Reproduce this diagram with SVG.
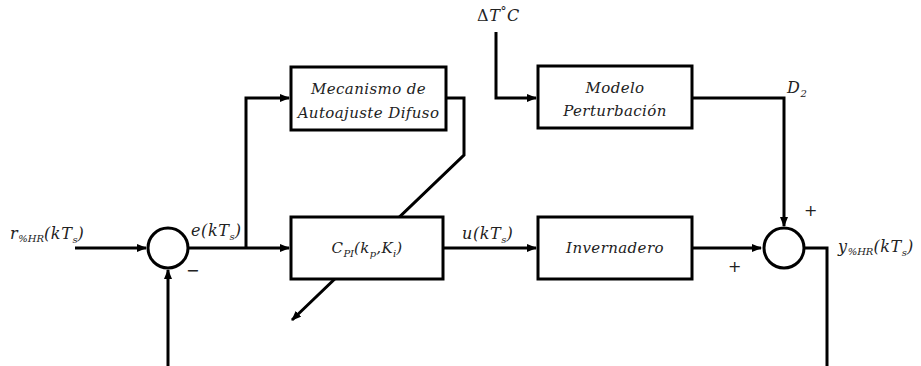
<svg xmlns="http://www.w3.org/2000/svg" width="921" height="366" viewBox="0 0 921 366">
  <style>
    .blk { fill: #fff; stroke: #000; stroke-width: 3; }
    .ln { fill: none; stroke: #000; stroke-width: 3; }
    .t { font-family: "DejaVu Serif", "Liberation Serif", serif; font-style: italic; font-size: 15px; fill: #222; letter-spacing: 0.4px; }
    .lb { font-size: 16px; letter-spacing: 0.6px; }
    .c { text-anchor: middle; }
    .s { font-size: 10px; letter-spacing: 0; }
    .up { font-style: normal; }
    .sgn { font-family: "DejaVu Sans", sans-serif; font-size: 16px; fill: #222; }
  </style>
  <defs>
    <marker id="arr" markerWidth="10" markerHeight="8" refX="9" refY="4" orient="auto" markerUnits="userSpaceOnUse">
      <path d="M0,0 L10,4 L0,8 Z" fill="#000"/>
    </marker>
  </defs>
  <rect width="921" height="366" fill="#fff"/>

  <g id="connectors">
    <path class="ln" d="M75,248 H146" marker-end="url(#arr)"/>
    <path class="ln" d="M188,248 H289" marker-end="url(#arr)"/>
    <path class="ln" d="M246,248 V98 H289" marker-end="url(#arr)"/>
    <path class="ln" d="M446,98 H464 V155 L292,320" marker-end="url(#arr)"/>
    <path class="ln" d="M443,248 H536" marker-end="url(#arr)"/>
    <path class="ln" d="M692,248 H761" marker-end="url(#arr)"/>
    <path class="ln" d="M496,32 V98 H536" marker-end="url(#arr)"/>
    <path class="ln" d="M692,98 H784 V226" marker-end="url(#arr)"/>
    <path class="ln" d="M804,248 H827 V366"/>
    <path class="ln" d="M168,366 V270" marker-end="url(#arr)"/>
  </g>

  <g id="sum1">
    <circle class="blk" cx="168" cy="248" r="20"/>
    <text class="sgn" x="186" y="276">−</text>
  </g>

  <g id="sum2">
    <circle class="blk" cx="784" cy="248" r="20"/>
    <text class="sgn" x="728" y="272">+</text>
    <text class="sgn" x="804" y="216">+</text>
  </g>

  <g id="fuzzy">
    <rect class="blk" x="291" y="67" width="155" height="63"/>
    <text class="t c" x="368.5" y="94">Mecanismo de</text>
    <text class="t c" x="368.5" y="118">Autoajuste Difuso</text>
  </g>

  <g id="controller">
    <rect class="blk" x="291" y="217" width="152" height="62"/>
    <text class="t c" x="367" y="253">C<tspan class="s" dy="4">PI</tspan><tspan dy="-4">(k</tspan><tspan class="s" dy="4">p</tspan><tspan dy="-4">,K</tspan><tspan class="s" dy="4">i</tspan><tspan dy="-4">)</tspan></text>
  </g>

  <g id="plant">
    <rect class="blk" x="538" y="217" width="154" height="62"/>
    <text class="t c" x="615" y="253">Invernadero</text>
  </g>

  <g id="disturbance">
    <rect class="blk" x="538" y="66" width="154" height="62"/>
    <text class="t c" x="615" y="93">Modelo</text>
    <text class="t c" x="615" y="116">Perturbación</text>
  </g>

  <g id="labels">
    <text class="t lb" x="10" y="239">r<tspan class="s" dy="3">%HR</tspan><tspan dy="-3">(kT</tspan><tspan class="s" dy="4">s</tspan><tspan dy="-4">)</tspan></text>
    <text class="t lb" x="191" y="236">e(kT<tspan class="s" dy="4">s</tspan><tspan dy="-4">)</tspan></text>
    <text class="t lb" x="462" y="239">u(kT<tspan class="s" dy="4">s</tspan><tspan dy="-4">)</tspan></text>
    <text class="t lb" x="838" y="252">y<tspan class="s" dy="3">%HR</tspan><tspan dy="-3">(kT</tspan><tspan class="s" dy="4">s</tspan><tspan dy="-4">)</tspan></text>
    <text class="t lb" x="477" y="21"><tspan class="up">Δ</tspan>T<tspan class="up" font-size="12" dy="-5">°</tspan><tspan dy="5">C</tspan></text>
    <text class="t lb" x="787" y="93">D<tspan class="s" dy="4">2</tspan></text>
  </g>
</svg>
